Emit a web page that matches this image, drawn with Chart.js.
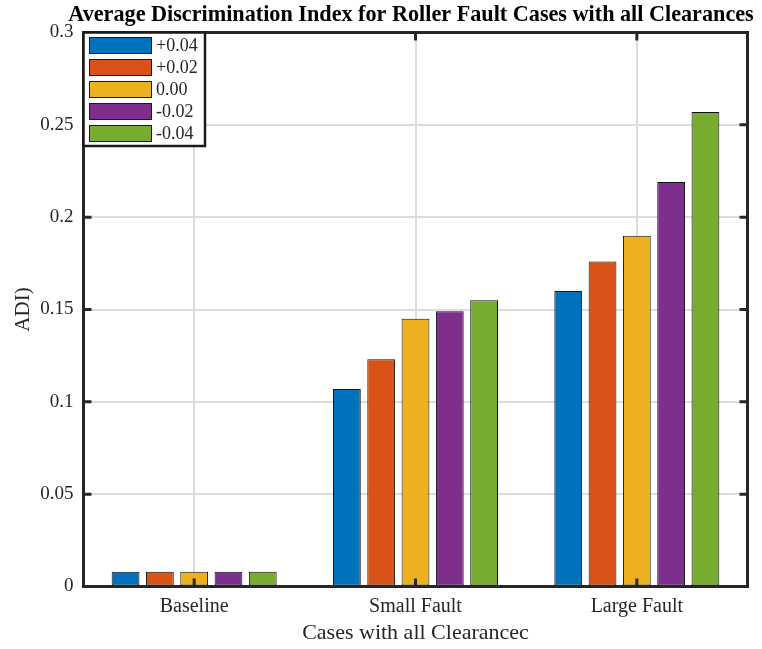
<!DOCTYPE html>
<html>
<head>
<meta charset="utf-8">
<style>
  html, body { margin: 0; padding: 0; background: #ffffff; }
  #chart { display: block; }
</style>
<script src="https://cdn.jsdelivr.net/npm/chart.js@4.4.1/dist/chart.umd.min.js"></script>
</head>
<body>
<canvas id="chart" width="762" height="649"></canvas>
<script>
// Cases on the x axis
const categories = ['Baseline', 'Small Fault', 'Large Fault'];

// Clearance settings (one bar series each)
const seriesLabels = ['+0.04', '+0.02', '0.00', '-0.02', '-0.04'];
const seriesColors = ['#0072BD', '#D95319', '#EDB120', '#7E2F8E', '#77AC30'];

// Average discrimination index per case
const adiPlus004  = [0.008, 0.107, 0.160];
const adiPlus002  = [0.008, 0.123, 0.176];
const adiZero     = [0.008, 0.145, 0.190];
const adiMinus002 = [0.008, 0.149, 0.219];
const adiMinus004 = [0.008, 0.155, 0.257];

// Y axis tick labels (0 to 0.3 in steps of 0.05)
const yTickValues = [0, 0.05, 0.1, 0.15, 0.2, 0.25, 0.3];
const yTickLabels = ['0', '0.05', '0.1', '0.15', '0.2', '0.25', '0.3'];

const chartTitle = 'Average Discrimination Index for Roller Fault Cases with all Clearances';

const seriesValues = [adiPlus004, adiPlus002, adiZero, adiMinus002, adiMinus004];

const FONT = '"Liberation Serif", "Times New Roman", Times, serif';
const AXIS_COLOR = '#262626';

// Title, box around the axes, inward tick marks and the legend inside the plot
const frameAndLegend = {
  id: 'frameAndLegend',
  afterDatasetsDraw(chart) {
    const { ctx, chartArea: a, scales } = chart;
    ctx.save();
    ctx.strokeStyle = AXIS_COLOR;
    ctx.lineWidth = 3;
    ctx.lineCap = 'butt';
    const tickLen = 8;
    ctx.beginPath();
    yTickValues.forEach(v => {
      const y = scales.y.getPixelForValue(v);
      ctx.moveTo(a.left, y); ctx.lineTo(a.left + tickLen, y);
      ctx.moveTo(a.right, y); ctx.lineTo(a.right - tickLen, y);
    });
    categories.forEach((c, i) => {
      const x = scales.x.getPixelForValue(i);
      ctx.moveTo(x, a.bottom); ctx.lineTo(x, a.bottom - tickLen);
      ctx.moveTo(x, a.top); ctx.lineTo(x, a.top + tickLen);
    });
    ctx.stroke();
    ctx.strokeRect(a.left, a.top, a.right - a.left, a.bottom - a.top);
    ctx.restore();
  },
  afterDraw(chart) {
    const { ctx, chartArea: a } = chart;

    // chart title, slightly wider than the axes box
    ctx.save();
    ctx.fillStyle = '#000000';
    ctx.font = 'bold 22.2px ' + FONT;
    ctx.textAlign = 'center';
    ctx.textBaseline = 'middle';
    ctx.fillText(chartTitle, (a.left + a.right) / 2 - 4.5, 15.5);
    ctx.restore();

    const boxL = a.left, boxT = a.top, boxW = 121.5, boxH = 113.5;
    ctx.save();
    ctx.fillStyle = '#ffffff';
    ctx.fillRect(boxL, boxT, boxW, boxH);
    ctx.strokeStyle = '#1a1a1a';
    ctx.lineWidth = 2.5;
    ctx.strokeRect(boxL, boxT, boxW, boxH);
    ctx.font = '18px ' + FONT;
    ctx.textBaseline = 'middle';
    ctx.textAlign = 'left';
    chart.data.datasets.forEach((ds, i) => {
      const sy = boxT + 5 + i * 22;
      ctx.fillStyle = ds.backgroundColor;
      ctx.fillRect(boxL + 6, sy, 62, 16);
      ctx.lineWidth = 1;
      ctx.strokeStyle = '#1a1a1a';
      ctx.strokeRect(boxL + 6, sy, 62, 16);
      ctx.fillStyle = AXIS_COLOR;
      ctx.fillText(ds.label, boxL + 72.5, sy + 9);
    });
    ctx.restore();
  }
};

new Chart(document.getElementById('chart'), {
  type: 'bar',
  data: {
    labels: categories,
    datasets: seriesLabels.map((label, i) => ({
      label: label,
      data: seriesValues[i],
      backgroundColor: seriesColors[i],
      borderColor: '#111111',
      borderWidth: 1,
      borderSkipped: false,
      categoryPercentage: 0.775,
      barPercentage: 0.81
    }))
  },
  options: {
    responsive: false,
    animation: false,
    layout: { padding: { left: 0, right: 14.5, top: 32.5, bottom: 0 } },
    plugins: {
      legend: { display: false },
      tooltip: { enabled: false },
      title: { display: false }
    },
    scales: {
      x: {
        offset: true,
        grid: { display: true, offset: false, color: '#dcdcdc', lineWidth: 2, drawTicks: false },
        border: { display: false },
        ticks: { color: AXIS_COLOR, font: { family: FONT, size: 20 }, padding: 8, maxRotation: 0 },
        title: {
          display: true,
          text: 'Cases with all Clearancec',
          color: AXIS_COLOR,
          font: { family: FONT, size: 22 },
          padding: { top: 0, bottom: 3 }
        },
        afterFit(scale) { scale.height = 62.5; }
      },
      y: {
        min: 0,
        max: 0.3,
        afterBuildTicks(scale) { scale.ticks = yTickValues.map(v => ({ value: v })); },
        grid: { color: '#dcdcdc', lineWidth: 2, drawTicks: false },
        border: { display: false },
        ticks: {
          color: AXIS_COLOR,
          font: { family: FONT, size: 19 },
          padding: 10,
          callback: (v, i) => yTickLabels[i]
        },
        title: {
          display: true,
          text: 'ADI)',
          color: AXIS_COLOR,
          font: { family: FONT, size: 21 },
          padding: { top: 11, bottom: 0 }
        },
        afterFit(scale) { scale.width = 83.5; }
      }
    }
  },
  plugins: [frameAndLegend]
});
</script>
</body>
</html>
